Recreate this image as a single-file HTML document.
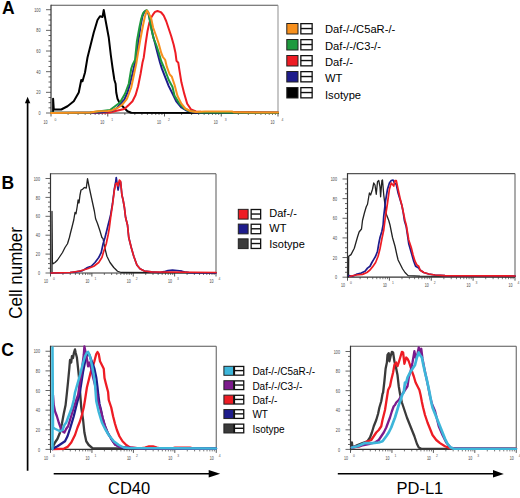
<!DOCTYPE html>
<html><head><meta charset="utf-8"><style>
html,body{margin:0;padding:0;background:#fff;}
body{width:520px;height:498px;overflow:hidden;font-family:"Liberation Sans", sans-serif;}
svg{display:block;}
</style></head><body>
<svg width="520" height="498" viewBox="0 0 520 498" font-family='"Liberation Sans", sans-serif'>
<rect x="0" y="0" width="520" height="498" fill="#fff"/>
<text x="2.00" y="13.70" font-size="17.5" fill="#000" font-weight="bold" text-anchor="start" >A</text>
<text x="1.60" y="189.30" font-size="17.5" fill="#000" font-weight="bold" text-anchor="start" >B</text>
<text x="1.30" y="356.00" font-size="17.5" fill="#000" font-weight="bold" text-anchor="start" >C</text>
<line x1="27.60" y1="101.00" x2="27.60" y2="470.80" stroke="#000" stroke-width="1.7"/>
<polygon points="27.6,96.8 24.9,103.2 30.3,103.2" fill="#000"/>
<text transform="translate(21.9,318.7) rotate(-90) scale(0.945,1)" font-size="18" fill="#000">Cell number</text>
<line x1="53.70" y1="473.75" x2="210.00" y2="473.75" stroke="#000" stroke-width="1.7"/>
<polygon points="220.2,473.75 208.7,470.1 208.7,477.4" fill="#000"/>
<line x1="337.80" y1="473.75" x2="494.00" y2="473.75" stroke="#000" stroke-width="1.7"/>
<polygon points="503.8,473.9 493,470.1 493,477.4" fill="#000"/>
<text x="108.00" y="494.20" font-size="16.5" fill="#000" font-weight="normal" text-anchor="start" >CD40</text>
<text x="396.50" y="494.00" font-size="16.5" fill="#000" font-weight="normal" text-anchor="start" >PD-L1</text>
<line x1="51.00" y1="5.20" x2="278.00" y2="5.20" stroke="#555" stroke-width="1.1"/>
<line x1="278.00" y1="5.20" x2="278.00" y2="113.00" stroke="#999" stroke-width="1.1"/>
<line x1="46.00" y1="113.00" x2="51.00" y2="113.00" stroke="#555" stroke-width="0.9"/>
<text transform="translate(40.50,115.10) scale(0.72,1)" font-size="5.2" fill="#444" text-anchor="end">0</text>
<line x1="48.50" y1="107.84" x2="51.00" y2="107.84" stroke="#555" stroke-width="0.9"/>
<line x1="48.50" y1="102.67" x2="51.00" y2="102.67" stroke="#555" stroke-width="0.9"/>
<line x1="48.50" y1="97.50" x2="51.00" y2="97.50" stroke="#555" stroke-width="0.9"/>
<line x1="46.00" y1="92.34" x2="51.00" y2="92.34" stroke="#555" stroke-width="0.9"/>
<text transform="translate(40.50,94.44) scale(0.72,1)" font-size="5.2" fill="#444" text-anchor="end">20</text>
<line x1="48.50" y1="87.17" x2="51.00" y2="87.17" stroke="#555" stroke-width="0.9"/>
<line x1="48.50" y1="82.01" x2="51.00" y2="82.01" stroke="#555" stroke-width="0.9"/>
<line x1="48.50" y1="76.84" x2="51.00" y2="76.84" stroke="#555" stroke-width="0.9"/>
<line x1="46.00" y1="71.68" x2="51.00" y2="71.68" stroke="#555" stroke-width="0.9"/>
<text transform="translate(40.50,73.78) scale(0.72,1)" font-size="5.2" fill="#444" text-anchor="end">40</text>
<line x1="48.50" y1="66.52" x2="51.00" y2="66.52" stroke="#555" stroke-width="0.9"/>
<line x1="48.50" y1="61.35" x2="51.00" y2="61.35" stroke="#555" stroke-width="0.9"/>
<line x1="48.50" y1="56.19" x2="51.00" y2="56.19" stroke="#555" stroke-width="0.9"/>
<line x1="46.00" y1="51.02" x2="51.00" y2="51.02" stroke="#555" stroke-width="0.9"/>
<text transform="translate(40.50,53.12) scale(0.72,1)" font-size="5.2" fill="#444" text-anchor="end">60</text>
<line x1="48.50" y1="45.86" x2="51.00" y2="45.86" stroke="#555" stroke-width="0.9"/>
<line x1="48.50" y1="40.69" x2="51.00" y2="40.69" stroke="#555" stroke-width="0.9"/>
<line x1="48.50" y1="35.53" x2="51.00" y2="35.53" stroke="#555" stroke-width="0.9"/>
<line x1="46.00" y1="30.36" x2="51.00" y2="30.36" stroke="#555" stroke-width="0.9"/>
<text transform="translate(40.50,32.46) scale(0.72,1)" font-size="5.2" fill="#444" text-anchor="end">80</text>
<line x1="48.50" y1="25.20" x2="51.00" y2="25.20" stroke="#555" stroke-width="0.9"/>
<line x1="48.50" y1="20.03" x2="51.00" y2="20.03" stroke="#555" stroke-width="0.9"/>
<line x1="48.50" y1="14.87" x2="51.00" y2="14.87" stroke="#555" stroke-width="0.9"/>
<line x1="46.00" y1="9.70" x2="51.00" y2="9.70" stroke="#555" stroke-width="0.9"/>
<text transform="translate(40.50,11.80) scale(0.72,1)" font-size="5.2" fill="#444" text-anchor="end">100</text>
<line x1="51.00" y1="113.00" x2="51.00" y2="116.50" stroke="#444" stroke-width="0.9"/>
<text transform="translate(47.50,124.40) scale(0.72,1)" font-size="5.0" fill="#444" text-anchor="end">10</text>
<text transform="translate(54.40,121.20) scale(0.8,1)" font-size="4.2" fill="#555" text-anchor="start">0</text>
<line x1="68.08" y1="113.00" x2="68.08" y2="115.00" stroke="#555" stroke-width="0.8"/>
<line x1="78.08" y1="113.00" x2="78.08" y2="115.00" stroke="#555" stroke-width="0.8"/>
<line x1="85.17" y1="113.00" x2="85.17" y2="115.00" stroke="#555" stroke-width="0.8"/>
<line x1="90.67" y1="113.00" x2="90.67" y2="115.00" stroke="#555" stroke-width="0.8"/>
<line x1="95.16" y1="113.00" x2="95.16" y2="115.00" stroke="#555" stroke-width="0.8"/>
<line x1="98.96" y1="113.00" x2="98.96" y2="115.00" stroke="#555" stroke-width="0.8"/>
<line x1="102.25" y1="113.00" x2="102.25" y2="115.00" stroke="#555" stroke-width="0.8"/>
<line x1="105.15" y1="113.00" x2="105.15" y2="115.00" stroke="#555" stroke-width="0.8"/>
<line x1="107.75" y1="113.00" x2="107.75" y2="116.50" stroke="#444" stroke-width="0.9"/>
<text transform="translate(104.25,124.40) scale(0.72,1)" font-size="5.0" fill="#444" text-anchor="end">10</text>
<text transform="translate(111.15,121.20) scale(0.8,1)" font-size="4.2" fill="#555" text-anchor="start">1</text>
<line x1="124.83" y1="113.00" x2="124.83" y2="115.00" stroke="#555" stroke-width="0.8"/>
<line x1="134.83" y1="113.00" x2="134.83" y2="115.00" stroke="#555" stroke-width="0.8"/>
<line x1="141.92" y1="113.00" x2="141.92" y2="115.00" stroke="#555" stroke-width="0.8"/>
<line x1="147.42" y1="113.00" x2="147.42" y2="115.00" stroke="#555" stroke-width="0.8"/>
<line x1="151.91" y1="113.00" x2="151.91" y2="115.00" stroke="#555" stroke-width="0.8"/>
<line x1="155.71" y1="113.00" x2="155.71" y2="115.00" stroke="#555" stroke-width="0.8"/>
<line x1="159.00" y1="113.00" x2="159.00" y2="115.00" stroke="#555" stroke-width="0.8"/>
<line x1="161.90" y1="113.00" x2="161.90" y2="115.00" stroke="#555" stroke-width="0.8"/>
<line x1="164.50" y1="113.00" x2="164.50" y2="116.50" stroke="#444" stroke-width="0.9"/>
<text transform="translate(161.00,124.40) scale(0.72,1)" font-size="5.0" fill="#444" text-anchor="end">10</text>
<text transform="translate(167.90,121.20) scale(0.8,1)" font-size="4.2" fill="#555" text-anchor="start">2</text>
<line x1="181.58" y1="113.00" x2="181.58" y2="115.00" stroke="#555" stroke-width="0.8"/>
<line x1="191.58" y1="113.00" x2="191.58" y2="115.00" stroke="#555" stroke-width="0.8"/>
<line x1="198.67" y1="113.00" x2="198.67" y2="115.00" stroke="#555" stroke-width="0.8"/>
<line x1="204.17" y1="113.00" x2="204.17" y2="115.00" stroke="#555" stroke-width="0.8"/>
<line x1="208.66" y1="113.00" x2="208.66" y2="115.00" stroke="#555" stroke-width="0.8"/>
<line x1="212.46" y1="113.00" x2="212.46" y2="115.00" stroke="#555" stroke-width="0.8"/>
<line x1="215.75" y1="113.00" x2="215.75" y2="115.00" stroke="#555" stroke-width="0.8"/>
<line x1="218.65" y1="113.00" x2="218.65" y2="115.00" stroke="#555" stroke-width="0.8"/>
<line x1="221.25" y1="113.00" x2="221.25" y2="116.50" stroke="#444" stroke-width="0.9"/>
<text transform="translate(217.75,124.40) scale(0.72,1)" font-size="5.0" fill="#444" text-anchor="end">10</text>
<text transform="translate(224.65,121.20) scale(0.8,1)" font-size="4.2" fill="#555" text-anchor="start">3</text>
<line x1="238.33" y1="113.00" x2="238.33" y2="115.00" stroke="#555" stroke-width="0.8"/>
<line x1="248.33" y1="113.00" x2="248.33" y2="115.00" stroke="#555" stroke-width="0.8"/>
<line x1="255.42" y1="113.00" x2="255.42" y2="115.00" stroke="#555" stroke-width="0.8"/>
<line x1="260.92" y1="113.00" x2="260.92" y2="115.00" stroke="#555" stroke-width="0.8"/>
<line x1="265.41" y1="113.00" x2="265.41" y2="115.00" stroke="#555" stroke-width="0.8"/>
<line x1="269.21" y1="113.00" x2="269.21" y2="115.00" stroke="#555" stroke-width="0.8"/>
<line x1="272.50" y1="113.00" x2="272.50" y2="115.00" stroke="#555" stroke-width="0.8"/>
<line x1="275.40" y1="113.00" x2="275.40" y2="115.00" stroke="#555" stroke-width="0.8"/>
<line x1="278.00" y1="113.00" x2="278.00" y2="116.50" stroke="#444" stroke-width="0.9"/>
<text transform="translate(274.50,124.40) scale(0.72,1)" font-size="5.0" fill="#444" text-anchor="end">10</text>
<text transform="translate(281.40,121.20) scale(0.8,1)" font-size="4.2" fill="#555" text-anchor="start">4</text>
<line x1="51.00" y1="4.70" x2="51.00" y2="113.50" stroke="#333" stroke-width="1.2"/>
<line x1="50.50" y1="113.00" x2="278.00" y2="113.00" stroke="#333" stroke-width="1.2"/>
<line x1="50.50" y1="173.75" x2="216.00" y2="173.75" stroke="#555" stroke-width="1.1"/>
<line x1="216.00" y1="173.75" x2="216.00" y2="273.00" stroke="#666" stroke-width="1.1"/>
<line x1="45.50" y1="273.00" x2="50.50" y2="273.00" stroke="#555" stroke-width="0.9"/>
<text transform="translate(40.00,275.10) scale(0.72,1)" font-size="5.2" fill="#444" text-anchor="end">0</text>
<line x1="48.00" y1="268.27" x2="50.50" y2="268.27" stroke="#555" stroke-width="0.9"/>
<line x1="48.00" y1="263.55" x2="50.50" y2="263.55" stroke="#555" stroke-width="0.9"/>
<line x1="48.00" y1="258.82" x2="50.50" y2="258.82" stroke="#555" stroke-width="0.9"/>
<line x1="45.50" y1="254.10" x2="50.50" y2="254.10" stroke="#555" stroke-width="0.9"/>
<text transform="translate(40.00,256.20) scale(0.72,1)" font-size="5.2" fill="#444" text-anchor="end">20</text>
<line x1="48.00" y1="249.38" x2="50.50" y2="249.38" stroke="#555" stroke-width="0.9"/>
<line x1="48.00" y1="244.65" x2="50.50" y2="244.65" stroke="#555" stroke-width="0.9"/>
<line x1="48.00" y1="239.93" x2="50.50" y2="239.93" stroke="#555" stroke-width="0.9"/>
<line x1="45.50" y1="235.20" x2="50.50" y2="235.20" stroke="#555" stroke-width="0.9"/>
<text transform="translate(40.00,237.30) scale(0.72,1)" font-size="5.2" fill="#444" text-anchor="end">40</text>
<line x1="48.00" y1="230.47" x2="50.50" y2="230.47" stroke="#555" stroke-width="0.9"/>
<line x1="48.00" y1="225.75" x2="50.50" y2="225.75" stroke="#555" stroke-width="0.9"/>
<line x1="48.00" y1="221.03" x2="50.50" y2="221.03" stroke="#555" stroke-width="0.9"/>
<line x1="45.50" y1="216.30" x2="50.50" y2="216.30" stroke="#555" stroke-width="0.9"/>
<text transform="translate(40.00,218.40) scale(0.72,1)" font-size="5.2" fill="#444" text-anchor="end">60</text>
<line x1="48.00" y1="211.57" x2="50.50" y2="211.57" stroke="#555" stroke-width="0.9"/>
<line x1="48.00" y1="206.85" x2="50.50" y2="206.85" stroke="#555" stroke-width="0.9"/>
<line x1="48.00" y1="202.12" x2="50.50" y2="202.12" stroke="#555" stroke-width="0.9"/>
<line x1="45.50" y1="197.40" x2="50.50" y2="197.40" stroke="#555" stroke-width="0.9"/>
<text transform="translate(40.00,199.50) scale(0.72,1)" font-size="5.2" fill="#444" text-anchor="end">80</text>
<line x1="48.00" y1="192.68" x2="50.50" y2="192.68" stroke="#555" stroke-width="0.9"/>
<line x1="48.00" y1="187.95" x2="50.50" y2="187.95" stroke="#555" stroke-width="0.9"/>
<line x1="48.00" y1="183.23" x2="50.50" y2="183.23" stroke="#555" stroke-width="0.9"/>
<line x1="45.50" y1="178.50" x2="50.50" y2="178.50" stroke="#555" stroke-width="0.9"/>
<text transform="translate(40.00,180.60) scale(0.72,1)" font-size="5.2" fill="#444" text-anchor="end">100</text>
<line x1="50.50" y1="273.00" x2="50.50" y2="276.50" stroke="#444" stroke-width="0.9"/>
<text transform="translate(48.00,283.20) scale(0.72,1)" font-size="5.0" fill="#444" text-anchor="end">10</text>
<text transform="translate(53.00,280.20) scale(0.8,1)" font-size="4.2" fill="#555" text-anchor="start">0</text>
<line x1="62.96" y1="273.00" x2="62.96" y2="275.00" stroke="#555" stroke-width="0.8"/>
<line x1="70.24" y1="273.00" x2="70.24" y2="275.00" stroke="#555" stroke-width="0.8"/>
<line x1="75.41" y1="273.00" x2="75.41" y2="275.00" stroke="#555" stroke-width="0.8"/>
<line x1="79.42" y1="273.00" x2="79.42" y2="275.00" stroke="#555" stroke-width="0.8"/>
<line x1="82.70" y1="273.00" x2="82.70" y2="275.00" stroke="#555" stroke-width="0.8"/>
<line x1="85.47" y1="273.00" x2="85.47" y2="275.00" stroke="#555" stroke-width="0.8"/>
<line x1="87.87" y1="273.00" x2="87.87" y2="275.00" stroke="#555" stroke-width="0.8"/>
<line x1="89.98" y1="273.00" x2="89.98" y2="275.00" stroke="#555" stroke-width="0.8"/>
<line x1="91.88" y1="273.00" x2="91.88" y2="276.50" stroke="#444" stroke-width="0.9"/>
<text transform="translate(89.38,283.20) scale(0.72,1)" font-size="5.0" fill="#444" text-anchor="end">10</text>
<text transform="translate(94.38,280.20) scale(0.8,1)" font-size="4.2" fill="#555" text-anchor="start">1</text>
<line x1="104.33" y1="273.00" x2="104.33" y2="275.00" stroke="#555" stroke-width="0.8"/>
<line x1="111.62" y1="273.00" x2="111.62" y2="275.00" stroke="#555" stroke-width="0.8"/>
<line x1="116.79" y1="273.00" x2="116.79" y2="275.00" stroke="#555" stroke-width="0.8"/>
<line x1="120.79" y1="273.00" x2="120.79" y2="275.00" stroke="#555" stroke-width="0.8"/>
<line x1="124.07" y1="273.00" x2="124.07" y2="275.00" stroke="#555" stroke-width="0.8"/>
<line x1="126.84" y1="273.00" x2="126.84" y2="275.00" stroke="#555" stroke-width="0.8"/>
<line x1="129.24" y1="273.00" x2="129.24" y2="275.00" stroke="#555" stroke-width="0.8"/>
<line x1="131.36" y1="273.00" x2="131.36" y2="275.00" stroke="#555" stroke-width="0.8"/>
<line x1="133.25" y1="273.00" x2="133.25" y2="276.50" stroke="#444" stroke-width="0.9"/>
<text transform="translate(130.75,283.20) scale(0.72,1)" font-size="5.0" fill="#444" text-anchor="end">10</text>
<text transform="translate(135.75,280.20) scale(0.8,1)" font-size="4.2" fill="#555" text-anchor="start">2</text>
<line x1="145.71" y1="273.00" x2="145.71" y2="275.00" stroke="#555" stroke-width="0.8"/>
<line x1="152.99" y1="273.00" x2="152.99" y2="275.00" stroke="#555" stroke-width="0.8"/>
<line x1="158.16" y1="273.00" x2="158.16" y2="275.00" stroke="#555" stroke-width="0.8"/>
<line x1="162.17" y1="273.00" x2="162.17" y2="275.00" stroke="#555" stroke-width="0.8"/>
<line x1="165.45" y1="273.00" x2="165.45" y2="275.00" stroke="#555" stroke-width="0.8"/>
<line x1="168.22" y1="273.00" x2="168.22" y2="275.00" stroke="#555" stroke-width="0.8"/>
<line x1="170.62" y1="273.00" x2="170.62" y2="275.00" stroke="#555" stroke-width="0.8"/>
<line x1="172.73" y1="273.00" x2="172.73" y2="275.00" stroke="#555" stroke-width="0.8"/>
<line x1="174.62" y1="273.00" x2="174.62" y2="276.50" stroke="#444" stroke-width="0.9"/>
<text transform="translate(172.12,283.20) scale(0.72,1)" font-size="5.0" fill="#444" text-anchor="end">10</text>
<text transform="translate(177.12,280.20) scale(0.8,1)" font-size="4.2" fill="#555" text-anchor="start">3</text>
<line x1="187.08" y1="273.00" x2="187.08" y2="275.00" stroke="#555" stroke-width="0.8"/>
<line x1="194.37" y1="273.00" x2="194.37" y2="275.00" stroke="#555" stroke-width="0.8"/>
<line x1="199.54" y1="273.00" x2="199.54" y2="275.00" stroke="#555" stroke-width="0.8"/>
<line x1="203.54" y1="273.00" x2="203.54" y2="275.00" stroke="#555" stroke-width="0.8"/>
<line x1="206.82" y1="273.00" x2="206.82" y2="275.00" stroke="#555" stroke-width="0.8"/>
<line x1="209.59" y1="273.00" x2="209.59" y2="275.00" stroke="#555" stroke-width="0.8"/>
<line x1="211.99" y1="273.00" x2="211.99" y2="275.00" stroke="#555" stroke-width="0.8"/>
<line x1="214.11" y1="273.00" x2="214.11" y2="275.00" stroke="#555" stroke-width="0.8"/>
<line x1="216.00" y1="273.00" x2="216.00" y2="276.50" stroke="#444" stroke-width="0.9"/>
<text transform="translate(213.50,283.20) scale(0.72,1)" font-size="5.0" fill="#444" text-anchor="end">10</text>
<text transform="translate(218.50,280.20) scale(0.8,1)" font-size="4.2" fill="#555" text-anchor="start">4</text>
<line x1="50.50" y1="173.25" x2="50.50" y2="273.50" stroke="#333" stroke-width="1.2"/>
<line x1="50.00" y1="273.00" x2="216.00" y2="273.00" stroke="#333" stroke-width="1.2"/>
<line x1="347.50" y1="173.60" x2="515.00" y2="173.60" stroke="#555" stroke-width="1.1"/>
<line x1="515.00" y1="173.60" x2="515.00" y2="277.20" stroke="#666" stroke-width="1.1"/>
<line x1="342.50" y1="277.20" x2="347.50" y2="277.20" stroke="#555" stroke-width="0.9"/>
<text transform="translate(337.00,279.30) scale(0.72,1)" font-size="5.2" fill="#444" text-anchor="end">0</text>
<line x1="345.00" y1="272.29" x2="347.50" y2="272.29" stroke="#555" stroke-width="0.9"/>
<line x1="345.00" y1="267.38" x2="347.50" y2="267.38" stroke="#555" stroke-width="0.9"/>
<line x1="345.00" y1="262.47" x2="347.50" y2="262.47" stroke="#555" stroke-width="0.9"/>
<line x1="342.50" y1="257.56" x2="347.50" y2="257.56" stroke="#555" stroke-width="0.9"/>
<text transform="translate(337.00,259.66) scale(0.72,1)" font-size="5.2" fill="#444" text-anchor="end">20</text>
<line x1="345.00" y1="252.65" x2="347.50" y2="252.65" stroke="#555" stroke-width="0.9"/>
<line x1="345.00" y1="247.74" x2="347.50" y2="247.74" stroke="#555" stroke-width="0.9"/>
<line x1="345.00" y1="242.83" x2="347.50" y2="242.83" stroke="#555" stroke-width="0.9"/>
<line x1="342.50" y1="237.92" x2="347.50" y2="237.92" stroke="#555" stroke-width="0.9"/>
<text transform="translate(337.00,240.02) scale(0.72,1)" font-size="5.2" fill="#444" text-anchor="end">40</text>
<line x1="345.00" y1="233.01" x2="347.50" y2="233.01" stroke="#555" stroke-width="0.9"/>
<line x1="345.00" y1="228.10" x2="347.50" y2="228.10" stroke="#555" stroke-width="0.9"/>
<line x1="345.00" y1="223.19" x2="347.50" y2="223.19" stroke="#555" stroke-width="0.9"/>
<line x1="342.50" y1="218.28" x2="347.50" y2="218.28" stroke="#555" stroke-width="0.9"/>
<text transform="translate(337.00,220.38) scale(0.72,1)" font-size="5.2" fill="#444" text-anchor="end">60</text>
<line x1="345.00" y1="213.37" x2="347.50" y2="213.37" stroke="#555" stroke-width="0.9"/>
<line x1="345.00" y1="208.46" x2="347.50" y2="208.46" stroke="#555" stroke-width="0.9"/>
<line x1="345.00" y1="203.55" x2="347.50" y2="203.55" stroke="#555" stroke-width="0.9"/>
<line x1="342.50" y1="198.64" x2="347.50" y2="198.64" stroke="#555" stroke-width="0.9"/>
<text transform="translate(337.00,200.74) scale(0.72,1)" font-size="5.2" fill="#444" text-anchor="end">80</text>
<line x1="345.00" y1="193.73" x2="347.50" y2="193.73" stroke="#555" stroke-width="0.9"/>
<line x1="345.00" y1="188.82" x2="347.50" y2="188.82" stroke="#555" stroke-width="0.9"/>
<line x1="345.00" y1="183.91" x2="347.50" y2="183.91" stroke="#555" stroke-width="0.9"/>
<line x1="342.50" y1="179.00" x2="347.50" y2="179.00" stroke="#555" stroke-width="0.9"/>
<text transform="translate(337.00,181.10) scale(0.72,1)" font-size="5.2" fill="#444" text-anchor="end">100</text>
<line x1="347.50" y1="277.20" x2="347.50" y2="280.70" stroke="#444" stroke-width="0.9"/>
<text transform="translate(345.00,287.40) scale(0.72,1)" font-size="5.0" fill="#444" text-anchor="end">10</text>
<text transform="translate(350.00,284.40) scale(0.8,1)" font-size="4.2" fill="#555" text-anchor="start">0</text>
<line x1="360.11" y1="277.20" x2="360.11" y2="279.20" stroke="#555" stroke-width="0.8"/>
<line x1="367.48" y1="277.20" x2="367.48" y2="279.20" stroke="#555" stroke-width="0.8"/>
<line x1="372.71" y1="277.20" x2="372.71" y2="279.20" stroke="#555" stroke-width="0.8"/>
<line x1="376.77" y1="277.20" x2="376.77" y2="279.20" stroke="#555" stroke-width="0.8"/>
<line x1="380.09" y1="277.20" x2="380.09" y2="279.20" stroke="#555" stroke-width="0.8"/>
<line x1="382.89" y1="277.20" x2="382.89" y2="279.20" stroke="#555" stroke-width="0.8"/>
<line x1="385.32" y1="277.20" x2="385.32" y2="279.20" stroke="#555" stroke-width="0.8"/>
<line x1="387.46" y1="277.20" x2="387.46" y2="279.20" stroke="#555" stroke-width="0.8"/>
<line x1="389.38" y1="277.20" x2="389.38" y2="280.70" stroke="#444" stroke-width="0.9"/>
<text transform="translate(386.88,287.40) scale(0.72,1)" font-size="5.0" fill="#444" text-anchor="end">10</text>
<text transform="translate(391.88,284.40) scale(0.8,1)" font-size="4.2" fill="#555" text-anchor="start">1</text>
<line x1="401.98" y1="277.20" x2="401.98" y2="279.20" stroke="#555" stroke-width="0.8"/>
<line x1="409.35" y1="277.20" x2="409.35" y2="279.20" stroke="#555" stroke-width="0.8"/>
<line x1="414.59" y1="277.20" x2="414.59" y2="279.20" stroke="#555" stroke-width="0.8"/>
<line x1="418.64" y1="277.20" x2="418.64" y2="279.20" stroke="#555" stroke-width="0.8"/>
<line x1="421.96" y1="277.20" x2="421.96" y2="279.20" stroke="#555" stroke-width="0.8"/>
<line x1="424.76" y1="277.20" x2="424.76" y2="279.20" stroke="#555" stroke-width="0.8"/>
<line x1="427.19" y1="277.20" x2="427.19" y2="279.20" stroke="#555" stroke-width="0.8"/>
<line x1="429.33" y1="277.20" x2="429.33" y2="279.20" stroke="#555" stroke-width="0.8"/>
<line x1="431.25" y1="277.20" x2="431.25" y2="280.70" stroke="#444" stroke-width="0.9"/>
<text transform="translate(428.75,287.40) scale(0.72,1)" font-size="5.0" fill="#444" text-anchor="end">10</text>
<text transform="translate(433.75,284.40) scale(0.8,1)" font-size="4.2" fill="#555" text-anchor="start">2</text>
<line x1="443.86" y1="277.20" x2="443.86" y2="279.20" stroke="#555" stroke-width="0.8"/>
<line x1="451.23" y1="277.20" x2="451.23" y2="279.20" stroke="#555" stroke-width="0.8"/>
<line x1="456.46" y1="277.20" x2="456.46" y2="279.20" stroke="#555" stroke-width="0.8"/>
<line x1="460.52" y1="277.20" x2="460.52" y2="279.20" stroke="#555" stroke-width="0.8"/>
<line x1="463.84" y1="277.20" x2="463.84" y2="279.20" stroke="#555" stroke-width="0.8"/>
<line x1="466.64" y1="277.20" x2="466.64" y2="279.20" stroke="#555" stroke-width="0.8"/>
<line x1="469.07" y1="277.20" x2="469.07" y2="279.20" stroke="#555" stroke-width="0.8"/>
<line x1="471.21" y1="277.20" x2="471.21" y2="279.20" stroke="#555" stroke-width="0.8"/>
<line x1="473.12" y1="277.20" x2="473.12" y2="280.70" stroke="#444" stroke-width="0.9"/>
<text transform="translate(470.62,287.40) scale(0.72,1)" font-size="5.0" fill="#444" text-anchor="end">10</text>
<text transform="translate(475.62,284.40) scale(0.8,1)" font-size="4.2" fill="#555" text-anchor="start">3</text>
<line x1="485.73" y1="277.20" x2="485.73" y2="279.20" stroke="#555" stroke-width="0.8"/>
<line x1="493.10" y1="277.20" x2="493.10" y2="279.20" stroke="#555" stroke-width="0.8"/>
<line x1="498.34" y1="277.20" x2="498.34" y2="279.20" stroke="#555" stroke-width="0.8"/>
<line x1="502.39" y1="277.20" x2="502.39" y2="279.20" stroke="#555" stroke-width="0.8"/>
<line x1="505.71" y1="277.20" x2="505.71" y2="279.20" stroke="#555" stroke-width="0.8"/>
<line x1="508.51" y1="277.20" x2="508.51" y2="279.20" stroke="#555" stroke-width="0.8"/>
<line x1="510.94" y1="277.20" x2="510.94" y2="279.20" stroke="#555" stroke-width="0.8"/>
<line x1="513.08" y1="277.20" x2="513.08" y2="279.20" stroke="#555" stroke-width="0.8"/>
<line x1="515.00" y1="277.20" x2="515.00" y2="280.70" stroke="#444" stroke-width="0.9"/>
<text transform="translate(512.50,287.40) scale(0.72,1)" font-size="5.0" fill="#444" text-anchor="end">10</text>
<text transform="translate(517.50,284.40) scale(0.8,1)" font-size="4.2" fill="#555" text-anchor="start">4</text>
<line x1="347.50" y1="173.10" x2="347.50" y2="277.70" stroke="#333" stroke-width="1.2"/>
<line x1="347.00" y1="277.20" x2="515.00" y2="277.20" stroke="#333" stroke-width="1.2"/>
<line x1="50.50" y1="346.25" x2="216.25" y2="346.25" stroke="#555" stroke-width="1.1"/>
<line x1="216.25" y1="346.25" x2="216.25" y2="449.40" stroke="#666" stroke-width="1.1"/>
<line x1="45.50" y1="449.40" x2="50.50" y2="449.40" stroke="#555" stroke-width="0.9"/>
<text transform="translate(40.00,451.50) scale(0.72,1)" font-size="5.2" fill="#444" text-anchor="end">0</text>
<line x1="48.00" y1="444.49" x2="50.50" y2="444.49" stroke="#555" stroke-width="0.9"/>
<line x1="48.00" y1="439.58" x2="50.50" y2="439.58" stroke="#555" stroke-width="0.9"/>
<line x1="48.00" y1="434.68" x2="50.50" y2="434.68" stroke="#555" stroke-width="0.9"/>
<line x1="45.50" y1="429.77" x2="50.50" y2="429.77" stroke="#555" stroke-width="0.9"/>
<text transform="translate(40.00,431.87) scale(0.72,1)" font-size="5.2" fill="#444" text-anchor="end">20</text>
<line x1="48.00" y1="424.86" x2="50.50" y2="424.86" stroke="#555" stroke-width="0.9"/>
<line x1="48.00" y1="419.95" x2="50.50" y2="419.95" stroke="#555" stroke-width="0.9"/>
<line x1="48.00" y1="415.05" x2="50.50" y2="415.05" stroke="#555" stroke-width="0.9"/>
<line x1="45.50" y1="410.14" x2="50.50" y2="410.14" stroke="#555" stroke-width="0.9"/>
<text transform="translate(40.00,412.24) scale(0.72,1)" font-size="5.2" fill="#444" text-anchor="end">40</text>
<line x1="48.00" y1="405.23" x2="50.50" y2="405.23" stroke="#555" stroke-width="0.9"/>
<line x1="48.00" y1="400.32" x2="50.50" y2="400.32" stroke="#555" stroke-width="0.9"/>
<line x1="48.00" y1="395.42" x2="50.50" y2="395.42" stroke="#555" stroke-width="0.9"/>
<line x1="45.50" y1="390.51" x2="50.50" y2="390.51" stroke="#555" stroke-width="0.9"/>
<text transform="translate(40.00,392.61) scale(0.72,1)" font-size="5.2" fill="#444" text-anchor="end">60</text>
<line x1="48.00" y1="385.60" x2="50.50" y2="385.60" stroke="#555" stroke-width="0.9"/>
<line x1="48.00" y1="380.69" x2="50.50" y2="380.69" stroke="#555" stroke-width="0.9"/>
<line x1="48.00" y1="375.79" x2="50.50" y2="375.79" stroke="#555" stroke-width="0.9"/>
<line x1="45.50" y1="370.88" x2="50.50" y2="370.88" stroke="#555" stroke-width="0.9"/>
<text transform="translate(40.00,372.98) scale(0.72,1)" font-size="5.2" fill="#444" text-anchor="end">80</text>
<line x1="48.00" y1="365.97" x2="50.50" y2="365.97" stroke="#555" stroke-width="0.9"/>
<line x1="48.00" y1="361.06" x2="50.50" y2="361.06" stroke="#555" stroke-width="0.9"/>
<line x1="48.00" y1="356.16" x2="50.50" y2="356.16" stroke="#555" stroke-width="0.9"/>
<line x1="45.50" y1="351.25" x2="50.50" y2="351.25" stroke="#555" stroke-width="0.9"/>
<text transform="translate(40.00,353.35) scale(0.72,1)" font-size="5.2" fill="#444" text-anchor="end">100</text>
<line x1="50.50" y1="449.40" x2="50.50" y2="452.90" stroke="#444" stroke-width="0.9"/>
<text transform="translate(48.00,459.60) scale(0.72,1)" font-size="5.0" fill="#444" text-anchor="end">10</text>
<text transform="translate(53.00,456.60) scale(0.8,1)" font-size="4.2" fill="#555" text-anchor="start">0</text>
<line x1="62.97" y1="449.40" x2="62.97" y2="451.40" stroke="#555" stroke-width="0.8"/>
<line x1="70.27" y1="449.40" x2="70.27" y2="451.40" stroke="#555" stroke-width="0.8"/>
<line x1="75.45" y1="449.40" x2="75.45" y2="451.40" stroke="#555" stroke-width="0.8"/>
<line x1="79.46" y1="449.40" x2="79.46" y2="451.40" stroke="#555" stroke-width="0.8"/>
<line x1="82.74" y1="449.40" x2="82.74" y2="451.40" stroke="#555" stroke-width="0.8"/>
<line x1="85.52" y1="449.40" x2="85.52" y2="451.40" stroke="#555" stroke-width="0.8"/>
<line x1="87.92" y1="449.40" x2="87.92" y2="451.40" stroke="#555" stroke-width="0.8"/>
<line x1="90.04" y1="449.40" x2="90.04" y2="451.40" stroke="#555" stroke-width="0.8"/>
<line x1="91.94" y1="449.40" x2="91.94" y2="452.90" stroke="#444" stroke-width="0.9"/>
<text transform="translate(89.44,459.60) scale(0.72,1)" font-size="5.0" fill="#444" text-anchor="end">10</text>
<text transform="translate(94.44,456.60) scale(0.8,1)" font-size="4.2" fill="#555" text-anchor="start">1</text>
<line x1="104.41" y1="449.40" x2="104.41" y2="451.40" stroke="#555" stroke-width="0.8"/>
<line x1="111.71" y1="449.40" x2="111.71" y2="451.40" stroke="#555" stroke-width="0.8"/>
<line x1="116.89" y1="449.40" x2="116.89" y2="451.40" stroke="#555" stroke-width="0.8"/>
<line x1="120.90" y1="449.40" x2="120.90" y2="451.40" stroke="#555" stroke-width="0.8"/>
<line x1="124.18" y1="449.40" x2="124.18" y2="451.40" stroke="#555" stroke-width="0.8"/>
<line x1="126.96" y1="449.40" x2="126.96" y2="451.40" stroke="#555" stroke-width="0.8"/>
<line x1="129.36" y1="449.40" x2="129.36" y2="451.40" stroke="#555" stroke-width="0.8"/>
<line x1="131.48" y1="449.40" x2="131.48" y2="451.40" stroke="#555" stroke-width="0.8"/>
<line x1="133.38" y1="449.40" x2="133.38" y2="452.90" stroke="#444" stroke-width="0.9"/>
<text transform="translate(130.88,459.60) scale(0.72,1)" font-size="5.0" fill="#444" text-anchor="end">10</text>
<text transform="translate(135.88,456.60) scale(0.8,1)" font-size="4.2" fill="#555" text-anchor="start">2</text>
<line x1="145.85" y1="449.40" x2="145.85" y2="451.40" stroke="#555" stroke-width="0.8"/>
<line x1="153.15" y1="449.40" x2="153.15" y2="451.40" stroke="#555" stroke-width="0.8"/>
<line x1="158.32" y1="449.40" x2="158.32" y2="451.40" stroke="#555" stroke-width="0.8"/>
<line x1="162.34" y1="449.40" x2="162.34" y2="451.40" stroke="#555" stroke-width="0.8"/>
<line x1="165.62" y1="449.40" x2="165.62" y2="451.40" stroke="#555" stroke-width="0.8"/>
<line x1="168.39" y1="449.40" x2="168.39" y2="451.40" stroke="#555" stroke-width="0.8"/>
<line x1="170.80" y1="449.40" x2="170.80" y2="451.40" stroke="#555" stroke-width="0.8"/>
<line x1="172.92" y1="449.40" x2="172.92" y2="451.40" stroke="#555" stroke-width="0.8"/>
<line x1="174.81" y1="449.40" x2="174.81" y2="452.90" stroke="#444" stroke-width="0.9"/>
<text transform="translate(172.31,459.60) scale(0.72,1)" font-size="5.0" fill="#444" text-anchor="end">10</text>
<text transform="translate(177.31,456.60) scale(0.8,1)" font-size="4.2" fill="#555" text-anchor="start">3</text>
<line x1="187.29" y1="449.40" x2="187.29" y2="451.40" stroke="#555" stroke-width="0.8"/>
<line x1="194.58" y1="449.40" x2="194.58" y2="451.40" stroke="#555" stroke-width="0.8"/>
<line x1="199.76" y1="449.40" x2="199.76" y2="451.40" stroke="#555" stroke-width="0.8"/>
<line x1="203.78" y1="449.40" x2="203.78" y2="451.40" stroke="#555" stroke-width="0.8"/>
<line x1="207.06" y1="449.40" x2="207.06" y2="451.40" stroke="#555" stroke-width="0.8"/>
<line x1="209.83" y1="449.40" x2="209.83" y2="451.40" stroke="#555" stroke-width="0.8"/>
<line x1="212.23" y1="449.40" x2="212.23" y2="451.40" stroke="#555" stroke-width="0.8"/>
<line x1="214.35" y1="449.40" x2="214.35" y2="451.40" stroke="#555" stroke-width="0.8"/>
<line x1="216.25" y1="449.40" x2="216.25" y2="452.90" stroke="#444" stroke-width="0.9"/>
<text transform="translate(213.75,459.60) scale(0.72,1)" font-size="5.0" fill="#444" text-anchor="end">10</text>
<text transform="translate(218.75,456.60) scale(0.8,1)" font-size="4.2" fill="#555" text-anchor="start">4</text>
<line x1="50.50" y1="345.75" x2="50.50" y2="449.90" stroke="#333" stroke-width="1.2"/>
<line x1="50.00" y1="449.40" x2="216.25" y2="449.40" stroke="#333" stroke-width="1.2"/>
<line x1="350.50" y1="346.25" x2="516.25" y2="346.25" stroke="#555" stroke-width="1.1"/>
<line x1="516.25" y1="346.25" x2="516.25" y2="449.40" stroke="#666" stroke-width="1.1"/>
<line x1="345.50" y1="449.40" x2="350.50" y2="449.40" stroke="#555" stroke-width="0.9"/>
<text transform="translate(340.00,451.50) scale(0.72,1)" font-size="5.2" fill="#444" text-anchor="end">0</text>
<line x1="348.00" y1="444.50" x2="350.50" y2="444.50" stroke="#555" stroke-width="0.9"/>
<line x1="348.00" y1="439.61" x2="350.50" y2="439.61" stroke="#555" stroke-width="0.9"/>
<line x1="348.00" y1="434.71" x2="350.50" y2="434.71" stroke="#555" stroke-width="0.9"/>
<line x1="345.50" y1="429.82" x2="350.50" y2="429.82" stroke="#555" stroke-width="0.9"/>
<text transform="translate(340.00,431.92) scale(0.72,1)" font-size="5.2" fill="#444" text-anchor="end">20</text>
<line x1="348.00" y1="424.92" x2="350.50" y2="424.92" stroke="#555" stroke-width="0.9"/>
<line x1="348.00" y1="420.03" x2="350.50" y2="420.03" stroke="#555" stroke-width="0.9"/>
<line x1="348.00" y1="415.13" x2="350.50" y2="415.13" stroke="#555" stroke-width="0.9"/>
<line x1="345.50" y1="410.24" x2="350.50" y2="410.24" stroke="#555" stroke-width="0.9"/>
<text transform="translate(340.00,412.34) scale(0.72,1)" font-size="5.2" fill="#444" text-anchor="end">40</text>
<line x1="348.00" y1="405.34" x2="350.50" y2="405.34" stroke="#555" stroke-width="0.9"/>
<line x1="348.00" y1="400.45" x2="350.50" y2="400.45" stroke="#555" stroke-width="0.9"/>
<line x1="348.00" y1="395.56" x2="350.50" y2="395.56" stroke="#555" stroke-width="0.9"/>
<line x1="345.50" y1="390.66" x2="350.50" y2="390.66" stroke="#555" stroke-width="0.9"/>
<text transform="translate(340.00,392.76) scale(0.72,1)" font-size="5.2" fill="#444" text-anchor="end">60</text>
<line x1="348.00" y1="385.76" x2="350.50" y2="385.76" stroke="#555" stroke-width="0.9"/>
<line x1="348.00" y1="380.87" x2="350.50" y2="380.87" stroke="#555" stroke-width="0.9"/>
<line x1="348.00" y1="375.98" x2="350.50" y2="375.98" stroke="#555" stroke-width="0.9"/>
<line x1="345.50" y1="371.08" x2="350.50" y2="371.08" stroke="#555" stroke-width="0.9"/>
<text transform="translate(340.00,373.18) scale(0.72,1)" font-size="5.2" fill="#444" text-anchor="end">80</text>
<line x1="348.00" y1="366.19" x2="350.50" y2="366.19" stroke="#555" stroke-width="0.9"/>
<line x1="348.00" y1="361.29" x2="350.50" y2="361.29" stroke="#555" stroke-width="0.9"/>
<line x1="348.00" y1="356.39" x2="350.50" y2="356.39" stroke="#555" stroke-width="0.9"/>
<line x1="345.50" y1="351.50" x2="350.50" y2="351.50" stroke="#555" stroke-width="0.9"/>
<text transform="translate(340.00,353.60) scale(0.72,1)" font-size="5.2" fill="#444" text-anchor="end">100</text>
<line x1="350.50" y1="449.40" x2="350.50" y2="452.90" stroke="#444" stroke-width="0.9"/>
<text transform="translate(348.00,459.60) scale(0.72,1)" font-size="5.0" fill="#444" text-anchor="end">10</text>
<text transform="translate(353.00,456.60) scale(0.8,1)" font-size="4.2" fill="#555" text-anchor="start">0</text>
<line x1="362.97" y1="449.40" x2="362.97" y2="451.40" stroke="#555" stroke-width="0.8"/>
<line x1="370.27" y1="449.40" x2="370.27" y2="451.40" stroke="#555" stroke-width="0.8"/>
<line x1="375.45" y1="449.40" x2="375.45" y2="451.40" stroke="#555" stroke-width="0.8"/>
<line x1="379.46" y1="449.40" x2="379.46" y2="451.40" stroke="#555" stroke-width="0.8"/>
<line x1="382.74" y1="449.40" x2="382.74" y2="451.40" stroke="#555" stroke-width="0.8"/>
<line x1="385.52" y1="449.40" x2="385.52" y2="451.40" stroke="#555" stroke-width="0.8"/>
<line x1="387.92" y1="449.40" x2="387.92" y2="451.40" stroke="#555" stroke-width="0.8"/>
<line x1="390.04" y1="449.40" x2="390.04" y2="451.40" stroke="#555" stroke-width="0.8"/>
<line x1="391.94" y1="449.40" x2="391.94" y2="452.90" stroke="#444" stroke-width="0.9"/>
<text transform="translate(389.44,459.60) scale(0.72,1)" font-size="5.0" fill="#444" text-anchor="end">10</text>
<text transform="translate(394.44,456.60) scale(0.8,1)" font-size="4.2" fill="#555" text-anchor="start">1</text>
<line x1="404.41" y1="449.40" x2="404.41" y2="451.40" stroke="#555" stroke-width="0.8"/>
<line x1="411.71" y1="449.40" x2="411.71" y2="451.40" stroke="#555" stroke-width="0.8"/>
<line x1="416.89" y1="449.40" x2="416.89" y2="451.40" stroke="#555" stroke-width="0.8"/>
<line x1="420.90" y1="449.40" x2="420.90" y2="451.40" stroke="#555" stroke-width="0.8"/>
<line x1="424.18" y1="449.40" x2="424.18" y2="451.40" stroke="#555" stroke-width="0.8"/>
<line x1="426.96" y1="449.40" x2="426.96" y2="451.40" stroke="#555" stroke-width="0.8"/>
<line x1="429.36" y1="449.40" x2="429.36" y2="451.40" stroke="#555" stroke-width="0.8"/>
<line x1="431.48" y1="449.40" x2="431.48" y2="451.40" stroke="#555" stroke-width="0.8"/>
<line x1="433.38" y1="449.40" x2="433.38" y2="452.90" stroke="#444" stroke-width="0.9"/>
<text transform="translate(430.88,459.60) scale(0.72,1)" font-size="5.0" fill="#444" text-anchor="end">10</text>
<text transform="translate(435.88,456.60) scale(0.8,1)" font-size="4.2" fill="#555" text-anchor="start">2</text>
<line x1="445.85" y1="449.40" x2="445.85" y2="451.40" stroke="#555" stroke-width="0.8"/>
<line x1="453.15" y1="449.40" x2="453.15" y2="451.40" stroke="#555" stroke-width="0.8"/>
<line x1="458.32" y1="449.40" x2="458.32" y2="451.40" stroke="#555" stroke-width="0.8"/>
<line x1="462.34" y1="449.40" x2="462.34" y2="451.40" stroke="#555" stroke-width="0.8"/>
<line x1="465.62" y1="449.40" x2="465.62" y2="451.40" stroke="#555" stroke-width="0.8"/>
<line x1="468.39" y1="449.40" x2="468.39" y2="451.40" stroke="#555" stroke-width="0.8"/>
<line x1="470.80" y1="449.40" x2="470.80" y2="451.40" stroke="#555" stroke-width="0.8"/>
<line x1="472.92" y1="449.40" x2="472.92" y2="451.40" stroke="#555" stroke-width="0.8"/>
<line x1="474.81" y1="449.40" x2="474.81" y2="452.90" stroke="#444" stroke-width="0.9"/>
<text transform="translate(472.31,459.60) scale(0.72,1)" font-size="5.0" fill="#444" text-anchor="end">10</text>
<text transform="translate(477.31,456.60) scale(0.8,1)" font-size="4.2" fill="#555" text-anchor="start">3</text>
<line x1="487.29" y1="449.40" x2="487.29" y2="451.40" stroke="#555" stroke-width="0.8"/>
<line x1="494.58" y1="449.40" x2="494.58" y2="451.40" stroke="#555" stroke-width="0.8"/>
<line x1="499.76" y1="449.40" x2="499.76" y2="451.40" stroke="#555" stroke-width="0.8"/>
<line x1="503.78" y1="449.40" x2="503.78" y2="451.40" stroke="#555" stroke-width="0.8"/>
<line x1="507.06" y1="449.40" x2="507.06" y2="451.40" stroke="#555" stroke-width="0.8"/>
<line x1="509.83" y1="449.40" x2="509.83" y2="451.40" stroke="#555" stroke-width="0.8"/>
<line x1="512.23" y1="449.40" x2="512.23" y2="451.40" stroke="#555" stroke-width="0.8"/>
<line x1="514.35" y1="449.40" x2="514.35" y2="451.40" stroke="#555" stroke-width="0.8"/>
<line x1="516.25" y1="449.40" x2="516.25" y2="452.90" stroke="#444" stroke-width="0.9"/>
<text transform="translate(513.75,459.60) scale(0.72,1)" font-size="5.0" fill="#444" text-anchor="end">10</text>
<text transform="translate(518.75,456.60) scale(0.8,1)" font-size="4.2" fill="#555" text-anchor="start">4</text>
<line x1="350.50" y1="345.75" x2="350.50" y2="449.90" stroke="#333" stroke-width="1.2"/>
<line x1="350.00" y1="449.40" x2="516.25" y2="449.40" stroke="#333" stroke-width="1.2"/>
<polyline points="53.10,113.00 53.10,98.75 53.80,109.40 61.25,109.50 67.50,106.25 73.75,101.25 78.75,92.50 81.25,80.00 82.50,81.25 85.00,72.50 87.50,57.50 90.00,47.50 93.75,32.50 97.50,20.00 100.00,16.25 102.50,17.00 103.75,10.00 105.50,20.00 108.75,37.50 110.80,55.00 112.50,67.50 114.40,80.00 115.60,83.75 116.25,92.50 117.50,98.75 120.00,103.75 123.75,107.50 127.50,111.25 131.25,112.75 278.00,112.90" fill="none" stroke="#000" stroke-width="2.0" stroke-linejoin="round" stroke-linecap="round" opacity="1.0"/>
<polyline points="51.00,113.00 110.00,112.50 116.70,110.70 124.30,109.10 128.75,105.00 132.50,101.25 135.60,95.00 138.10,86.25 140.60,73.75 142.50,62.50 143.75,57.50 145.60,43.75 147.50,31.25 149.40,22.50 151.25,17.50 153.10,14.40 155.00,11.90 157.50,11.00 160.00,11.90 161.25,12.50 163.75,15.60 166.25,21.25 168.75,28.75 171.25,36.25 173.75,45.00 175.50,53.00 176.50,60.90 178.30,62.80 179.50,70.60 181.40,82.30 184.30,93.90 187.20,103.70 191.10,109.50 196.00,111.40 200.90,111.80 278.00,112.50" fill="none" stroke="#ee1c24" stroke-width="2.0" stroke-linejoin="round" stroke-linecap="round" opacity="1.0"/>
<polyline points="51.00,112.80 100.00,112.60 112.00,110.80 117.00,108.00 120.60,103.50 122.50,101.50 124.30,99.70 127.50,92.50 130.00,83.75 132.50,73.75 135.00,62.50 136.90,55.00 138.50,40.00 140.50,26.00 142.50,16.00 144.50,11.50 146.25,10.50 148.00,12.00 149.50,18.00 151.25,27.50 153.00,36.00 155.00,43.00 157.50,53.00 160.00,62.50 161.90,68.60 164.90,76.40 168.75,86.10 172.60,93.90 176.50,101.70 181.40,107.50 186.30,110.50 195.00,112.50 278.00,112.80" fill="none" stroke="#1e1c8c" stroke-width="2.0" stroke-linejoin="round" stroke-linecap="round" opacity="1.0"/>
<polyline points="51.00,112.80 90.00,112.50 110.00,110.00 115.00,106.25 120.00,102.50 125.00,93.75 128.75,83.75 131.25,68.75 132.50,65.00 135.00,60.00 136.90,41.25 139.40,27.50 141.25,18.75 143.10,13.10 145.60,10.60 146.90,10.25 148.75,13.75 150.00,21.25 151.90,31.25 153.75,38.75 156.25,45.00 158.75,52.50 161.25,61.25 165.00,70.00 168.75,80.00 172.50,87.00 174.60,95.90 179.50,103.70 184.30,108.50 189.20,111.00 200.00,112.50 278.00,112.80" fill="none" stroke="#1e9a3e" stroke-width="2.0" stroke-linejoin="round" stroke-linecap="round" opacity="1.0"/>
<polyline points="51.00,112.90 90.00,112.60 98.00,111.30 108.00,110.90 112.00,110.40 118.70,107.30 122.50,104.40 126.40,99.70 127.50,97.50 131.25,87.50 134.40,72.50 136.25,63.75 137.50,56.00 140.00,41.25 143.10,25.00 145.00,16.25 146.90,10.60 148.10,11.90 151.25,18.75 153.10,27.50 156.25,36.25 158.75,43.75 161.25,53.00 162.90,57.00 165.20,59.90 166.80,66.70 169.70,74.50 171.70,76.40 174.60,85.00 177.50,95.90 181.40,103.70 185.30,108.50 190.20,111.00 196.00,112.00 205.00,111.60 232.00,111.40 234.00,112.30 278.00,112.50" fill="none" stroke="#f7901e" stroke-width="2.0" stroke-linejoin="round" stroke-linecap="round" opacity="1.0"/>
<polyline points="52.00,273.00 52.00,211.50 52.40,262.00 53.10,263.75 55.00,262.50 57.50,260.00 60.00,256.25 62.50,252.50 65.00,247.50 67.50,243.75 69.40,237.50 70.60,232.50 71.90,227.50 73.75,220.00 75.00,212.50 76.00,213.75 77.25,206.25 78.10,200.00 79.00,203.00 80.00,195.00 81.00,190.00 82.50,189.40 84.40,187.50 86.25,188.10 87.50,178.75 88.75,185.00 90.60,193.75 92.50,202.50 94.40,211.25 95.60,218.75 97.50,223.50 100.00,231.00 101.90,237.50 103.00,238.50 105.00,248.75 106.90,256.25 110.00,262.50 113.75,267.50 117.50,271.25 121.25,272.50 216.00,272.80" fill="none" stroke="#222" stroke-width="1.3" stroke-linejoin="round" stroke-linecap="round" opacity="1.0"/>
<polyline points="51.00,273.00 70.00,272.50 76.25,271.90 82.50,270.60 87.50,267.50 91.25,266.25 95.00,262.50 98.75,257.50 101.25,252.50 103.10,243.75 105.00,237.50 106.90,230.00 108.10,225.00 109.40,220.00 110.60,215.00 112.50,203.75 114.40,188.75 115.60,182.50 116.25,177.50 117.50,186.25 118.10,190.00 119.40,182.00 120.60,182.00 121.90,195.00 123.10,200.00 124.40,207.50 125.60,217.50 127.50,225.00 128.75,237.50 131.25,247.50 133.75,256.25 136.90,265.00 140.00,268.75 144.40,271.00 151.25,271.90 160.00,272.50 164.00,271.70 168.00,270.60 172.50,270.20 177.00,270.50 182.00,271.20 186.00,272.20 189.00,272.70 216.00,272.80" fill="none" stroke="#1e1c8c" stroke-width="1.7" stroke-linejoin="round" stroke-linecap="round" opacity="1.0"/>
<polyline points="51.00,273.00 70.00,272.50 80.00,271.00 87.50,268.75 93.75,266.25 98.75,262.50 101.90,257.50 103.75,251.25 106.25,243.75 108.10,235.00 109.40,227.50 110.60,218.00 112.50,205.00 114.40,190.00 115.60,184.00 117.00,183.00 118.00,186.00 119.40,180.00 120.60,181.25 121.90,195.00 123.10,200.00 124.40,207.50 125.60,217.50 127.50,225.00 128.75,237.50 131.25,247.50 133.75,256.25 136.90,265.00 140.00,268.75 144.40,271.00 151.25,271.90 216.00,272.50" fill="none" stroke="#ee1c24" stroke-width="1.7" stroke-linejoin="round" stroke-linecap="round" opacity="1.0"/>
<polyline points="348.50,276.90 348.70,256.20 351.00,254.60 354.30,248.20 357.50,237.00 359.10,232.00 361.50,229.00 362.50,220.50 364.40,213.00 366.25,206.75 367.50,204.25 368.75,196.75 369.40,193.00 370.60,195.00 372.50,189.25 373.75,183.00 375.00,185.00 376.25,194.25 377.50,181.75 378.75,180.50 380.00,186.75 380.60,196.75 381.90,180.50 382.50,180.00 383.75,195.00 385.00,205.00 386.25,214.00 388.75,220.50 390.00,225.00 392.50,237.50 395.00,246.25 396.90,255.00 398.10,260.00 400.00,263.75 402.50,268.75 405.00,272.50 408.10,275.60 420.00,276.20 515.00,276.50" fill="none" stroke="#222" stroke-width="1.3" stroke-linejoin="round" stroke-linecap="round" opacity="1.0"/>
<polyline points="348.75,275.60 352.50,276.25 356.25,274.40 361.25,273.10 365.00,271.25 367.50,268.10 370.00,266.25 371.90,262.50 373.75,259.40 375.60,256.25 377.50,251.25 378.75,243.75 380.00,237.50 381.90,231.25 383.10,225.00 383.75,216.00 385.60,200.50 387.50,189.25 389.40,183.00 391.25,180.50 393.10,180.00 394.40,183.00 396.25,184.25 398.10,193.00 400.00,199.25 401.90,205.50 403.10,211.75 404.40,220.50 406.25,226.75 407.50,235.00 408.75,243.75 411.25,252.50 413.75,261.25 415.60,266.25 418.75,268.00 420.00,270.00 423.75,272.50 428.75,274.00 435.00,275.00 445.00,275.60 515.00,276.00" fill="none" stroke="#1e1c8c" stroke-width="1.7" stroke-linejoin="round" stroke-linecap="round" opacity="1.0"/>
<polyline points="350.00,276.25 356.25,275.00 362.50,274.40 366.90,272.50 370.00,270.00 372.50,266.90 375.60,262.50 378.10,256.25 380.00,248.75 381.90,238.75 383.75,230.00 385.60,215.50 387.50,203.00 389.40,189.25 391.25,183.00 393.75,186.00 395.00,180.50 396.25,180.50 398.10,189.25 400.00,198.00 401.90,205.50 403.75,214.25 405.00,220.50 406.25,225.00 407.50,232.50 408.75,240.00 411.25,247.50 413.10,255.00 415.00,261.25 416.90,265.00 418.75,266.25 420.00,270.00 423.75,272.50 428.75,274.00 435.00,275.00 445.00,275.60 515.00,276.00" fill="none" stroke="#ee1c24" stroke-width="1.7" stroke-linejoin="round" stroke-linecap="round" opacity="1.0"/>
<polyline points="52.50,447.50 55.00,442.50 57.50,438.75 60.00,432.50 61.90,423.75 63.75,413.75 65.60,405.00 66.90,393.00 68.10,381.25 69.40,367.50 70.00,360.00 71.25,362.50 71.90,356.25 73.00,358.00 74.00,352.50 75.00,349.40 75.60,352.50 76.90,357.50 78.10,368.75 79.40,381.25 80.30,395.00 81.25,407.50 83.10,420.00 84.40,432.50 86.25,441.25 88.75,445.00 92.50,448.10 216.00,448.80" fill="none" stroke="#3a3a3a" stroke-width="2.3" stroke-linejoin="round" stroke-linecap="round" opacity="1.0"/>
<polyline points="52.50,449.00 63.75,448.75 67.50,446.90 71.25,442.50 75.00,435.00 77.50,427.50 80.00,421.25 81.90,415.00 83.75,407.50 85.00,400.00 86.90,387.50 88.75,380.00 90.60,372.50 92.50,367.50 94.40,361.25 96.25,354.00 97.50,352.00 98.75,354.00 100.00,361.25 101.90,365.00 103.75,368.75 104.50,378.00 105.60,382.50 106.90,387.50 108.10,392.00 108.75,400.00 111.25,407.50 113.10,416.25 115.00,423.75 116.90,430.00 119.40,436.25 122.50,441.25 126.25,445.00 130.00,447.50 140.00,448.30 145.00,447.60 149.00,446.40 153.00,446.30 157.00,447.60 160.00,448.40 172.00,448.30 175.00,447.70 190.00,447.70 193.00,448.40 216.00,448.60" fill="none" stroke="#ee1c24" stroke-width="2.3" stroke-linejoin="round" stroke-linecap="round" opacity="1.0"/>
<polyline points="52.50,449.00 53.75,448.10 57.50,446.25 61.25,443.75 65.00,441.25 67.50,436.25 70.00,428.75 71.90,422.50 73.75,416.25 75.60,408.75 77.50,401.25 79.40,395.00 81.00,385.00 83.00,372.00 85.00,362.00 87.50,352.50 89.00,354.00 91.25,360.00 94.40,368.75 96.25,377.50 97.50,387.50 98.30,395.00 99.50,404.00 101.00,410.00 102.50,417.50 105.00,426.25 107.50,432.50 111.25,438.75 115.00,444.40 120.00,446.90 123.75,448.10 216.00,448.50" fill="none" stroke="#1e1c8c" stroke-width="2.3" stroke-linejoin="round" stroke-linecap="round" opacity="1.0"/>
<polyline points="53.00,395.00 53.75,405.00 55.00,411.25 56.90,416.25 58.75,422.50 60.60,427.50 62.50,431.25 64.40,432.50 66.25,428.75 68.10,426.25 70.00,420.00 71.90,413.75 73.75,407.50 76.25,400.00 78.10,395.00 79.40,386.25 81.25,375.00 82.50,365.00 83.75,355.00 84.40,346.50 85.50,352.00 86.90,358.75 88.10,366.25 89.40,362.50 91.25,368.75 93.10,377.50 95.00,385.00 96.90,393.75 98.10,402.00 100.00,407.50 102.50,417.50 105.00,426.25 107.50,432.50 111.25,438.75 115.00,444.40 120.00,446.90 140.00,448.40 216.00,448.60" fill="none" stroke="#7c1a8c" stroke-width="2.3" stroke-linejoin="round" stroke-linecap="round" opacity="1.0"/>
<polyline points="52.50,449.00 52.50,347.50 53.00,427.50 55.00,428.75 57.50,430.00 60.00,431.25 62.50,430.00 64.40,425.00 66.25,422.50 68.10,417.50 70.00,412.50 71.90,407.50 73.75,400.00 75.00,392.50 77.50,383.75 80.00,375.00 82.50,365.00 85.00,356.25 86.90,352.50 88.10,351.90 90.00,356.25 91.90,365.00 93.75,375.00 95.00,384.00 96.25,401.00 98.75,412.00 101.90,422.50 105.00,428.75 108.75,435.00 113.75,441.25 118.75,445.00 123.75,447.50 128.75,448.10 216.00,448.50" fill="none" stroke="#3db6da" stroke-width="2.5" stroke-linejoin="round" stroke-linecap="round" opacity="1.0"/>
<polyline points="351.50,449.00 351.90,442.50 352.50,447.50 357.50,445.00 362.50,443.10 367.50,441.25 370.00,437.50 371.90,432.50 373.75,426.25 376.25,420.00 378.10,413.75 379.40,407.50 381.25,401.25 382.50,394.00 383.10,392.50 384.40,381.25 385.60,368.75 386.90,362.50 387.50,355.00 388.75,353.10 389.40,361.25 390.60,356.25 391.90,351.90 393.10,352.50 394.40,361.25 396.25,368.75 397.50,375.00 398.75,386.25 400.00,393.75 401.90,402.50 404.40,410.00 406.90,417.50 409.40,423.75 411.90,430.00 414.40,436.25 416.90,443.75 418.75,447.50 421.25,448.75 516.00,448.80" fill="none" stroke="#3a3a3a" stroke-width="2.3" stroke-linejoin="round" stroke-linecap="round" opacity="1.0"/>
<polyline points="351.90,447.50 360.00,446.25 366.25,441.90 371.25,440.00 373.75,436.25 376.25,432.50 378.75,430.00 381.25,426.25 382.50,420.00 383.75,415.00 385.00,410.00 386.25,402.00 388.10,390.00 390.00,386.25 391.25,380.00 393.10,372.50 394.40,365.00 396.25,362.50 397.50,366.25 398.75,362.50 400.60,356.25 401.90,351.90 403.10,352.50 404.40,363.75 406.25,357.50 407.50,358.75 408.75,361.25 410.00,365.00 411.90,371.25 413.75,376.25 415.60,382.50 417.50,386.25 419.40,390.00 420.60,395.00 421.90,402.00 423.10,407.50 425.00,415.00 427.50,422.50 430.00,428.75 432.50,435.00 436.25,440.00 440.00,443.10 445.00,446.25 450.00,448.10 516.00,448.50" fill="none" stroke="#ee1c24" stroke-width="2.3" stroke-linejoin="round" stroke-linecap="round" opacity="1.0"/>
<polyline points="351.90,447.50 363.75,445.00 370.00,443.75 375.00,442.50 378.75,440.00 381.25,436.25 383.75,432.50 386.25,427.50 388.10,422.50 390.00,417.50 391.90,411.25 393.75,406.25 395.00,405.00 396.25,402.50 397.50,401.25 398.75,400.00 402.50,393.75 405.00,390.00 407.50,386.25 408.75,377.50 410.60,371.25 412.50,362.50 414.40,351.25 415.60,357.50 417.00,356.00 418.75,347.50 420.00,353.00 421.25,348.75 422.50,358.75 424.40,368.75 426.25,377.50 428.10,386.25 430.00,396.25 432.00,404.00 435.00,411.00 438.75,426.25 442.50,435.00 446.25,442.50 450.60,447.50 455.00,448.50 516.00,448.80" fill="none" stroke="#7c1a8c" stroke-width="2.3" stroke-linejoin="round" stroke-linecap="round" opacity="1.0"/>
<polyline points="351.90,447.50 357.50,446.25 365.00,443.10 372.50,443.10 378.75,442.50 382.50,441.25 386.25,436.25 388.75,432.50 391.25,427.50 393.10,422.50 395.00,417.50 396.90,411.25 398.75,405.00 400.60,400.00 402.50,394.00 403.75,392.50 405.00,382.50 406.25,382.50 407.50,377.50 408.75,375.00 410.00,372.50 412.50,368.75 415.00,365.00 416.90,357.50 418.75,352.50 420.00,355.00 421.90,357.50 423.10,363.75 425.00,372.50 426.90,380.00 428.75,388.75 430.00,395.00 431.25,402.00 432.50,407.50 435.00,413.75 437.50,420.00 440.00,426.25 442.50,432.50 445.00,438.75 447.50,443.75 450.60,447.50 453.75,448.75 516.00,448.75" fill="none" stroke="#3db6da" stroke-width="2.7" stroke-linejoin="round" stroke-linecap="round" opacity="1.0"/>
<rect x="286.80" y="23.50" width="11.20" height="10.50" fill="#f7901e" stroke="#222" stroke-width="1"/>
<rect x="300.85" y="23.65" width="11.30" height="10.20" fill="#fff" stroke="#111" stroke-width="1.3"/>
<line x1="300.80" y1="28.55" x2="312.20" y2="28.55" stroke="#111" stroke-width="1.4"/>
<text x="325.00" y="33.30" font-size="11.2" fill="#000" font-weight="normal" text-anchor="start" >Daf-/-/C5aR-/-</text>
<rect x="286.80" y="39.50" width="11.20" height="10.50" fill="#1e9a3e" stroke="#222" stroke-width="1"/>
<rect x="300.85" y="39.65" width="11.30" height="10.20" fill="#fff" stroke="#111" stroke-width="1.3"/>
<line x1="300.80" y1="44.55" x2="312.20" y2="44.55" stroke="#111" stroke-width="1.4"/>
<text x="325.00" y="49.60" font-size="11.2" fill="#000" font-weight="normal" text-anchor="start" >Daf-/-/C3-/-</text>
<rect x="286.80" y="55.50" width="11.20" height="10.50" fill="#ee1c24" stroke="#222" stroke-width="1"/>
<rect x="300.85" y="55.65" width="11.30" height="10.20" fill="#fff" stroke="#111" stroke-width="1.3"/>
<line x1="300.80" y1="60.55" x2="312.20" y2="60.55" stroke="#111" stroke-width="1.4"/>
<text x="325.00" y="65.90" font-size="11.2" fill="#000" font-weight="normal" text-anchor="start" >Daf-/-</text>
<rect x="286.80" y="71.50" width="11.20" height="10.50" fill="#1e1c8c" stroke="#222" stroke-width="1"/>
<rect x="300.85" y="71.65" width="11.30" height="10.20" fill="#fff" stroke="#111" stroke-width="1.3"/>
<line x1="300.80" y1="76.55" x2="312.20" y2="76.55" stroke="#111" stroke-width="1.4"/>
<text x="325.00" y="82.20" font-size="11.2" fill="#000" font-weight="normal" text-anchor="start" >WT</text>
<rect x="286.80" y="87.50" width="11.20" height="10.50" fill="#000" stroke="#222" stroke-width="1"/>
<rect x="300.85" y="87.65" width="11.30" height="10.20" fill="#fff" stroke="#111" stroke-width="1.3"/>
<line x1="300.80" y1="92.55" x2="312.20" y2="92.55" stroke="#111" stroke-width="1.4"/>
<text x="325.00" y="98.50" font-size="11.2" fill="#000" font-weight="normal" text-anchor="start" >Isotype</text>
<rect x="238.30" y="209.35" width="9.80" height="9.75" fill="#ee1c24" stroke="#222" stroke-width="1"/>
<rect x="251.15" y="209.50" width="9.50" height="9.45" fill="#fff" stroke="#111" stroke-width="1.3"/>
<line x1="251.10" y1="214.03" x2="260.70" y2="214.03" stroke="#111" stroke-width="1.4"/>
<text x="269.30" y="217.15" font-size="11.0" fill="#000" font-weight="normal" text-anchor="start" >Daf-/-</text>
<rect x="238.30" y="224.10" width="9.80" height="9.75" fill="#1e1c8c" stroke="#222" stroke-width="1"/>
<rect x="251.15" y="224.25" width="9.50" height="9.45" fill="#fff" stroke="#111" stroke-width="1.3"/>
<line x1="251.10" y1="228.78" x2="260.70" y2="228.78" stroke="#111" stroke-width="1.4"/>
<text x="269.30" y="232.35" font-size="11.0" fill="#000" font-weight="normal" text-anchor="start" >WT</text>
<rect x="238.30" y="238.85" width="9.80" height="9.75" fill="#3a3a3a" stroke="#222" stroke-width="1"/>
<rect x="251.15" y="239.00" width="9.50" height="9.45" fill="#fff" stroke="#111" stroke-width="1.3"/>
<line x1="251.10" y1="243.53" x2="260.70" y2="243.53" stroke="#111" stroke-width="1.4"/>
<text x="269.30" y="247.55" font-size="11.0" fill="#000" font-weight="normal" text-anchor="start" >Isotype</text>
<rect x="223.90" y="366.30" width="9.60" height="9.00" fill="#3db6da" stroke="#222" stroke-width="1"/>
<rect x="234.45" y="366.45" width="9.30" height="8.70" fill="#fff" stroke="#111" stroke-width="1.3"/>
<line x1="234.40" y1="370.60" x2="243.80" y2="370.60" stroke="#111" stroke-width="1.4"/>
<text x="252.40" y="375.10" font-size="10.0" fill="#000" font-weight="normal" text-anchor="start" >Daf-/-/C5aR-/-</text>
<rect x="223.90" y="380.72" width="9.60" height="9.00" fill="#7c1a8c" stroke="#222" stroke-width="1"/>
<rect x="234.45" y="380.87" width="9.30" height="8.70" fill="#fff" stroke="#111" stroke-width="1.3"/>
<line x1="234.40" y1="385.02" x2="243.80" y2="385.02" stroke="#111" stroke-width="1.4"/>
<text x="252.40" y="389.52" font-size="10.0" fill="#000" font-weight="normal" text-anchor="start" >Daf-/-/C3-/-</text>
<rect x="223.90" y="395.14" width="9.60" height="9.00" fill="#ee1c24" stroke="#222" stroke-width="1"/>
<rect x="234.45" y="395.29" width="9.30" height="8.70" fill="#fff" stroke="#111" stroke-width="1.3"/>
<line x1="234.40" y1="399.44" x2="243.80" y2="399.44" stroke="#111" stroke-width="1.4"/>
<text x="252.40" y="403.94" font-size="10.0" fill="#000" font-weight="normal" text-anchor="start" >Daf-/-</text>
<rect x="223.90" y="409.56" width="9.60" height="9.00" fill="#1e1c8c" stroke="#222" stroke-width="1"/>
<rect x="234.45" y="409.71" width="9.30" height="8.70" fill="#fff" stroke="#111" stroke-width="1.3"/>
<line x1="234.40" y1="413.86" x2="243.80" y2="413.86" stroke="#111" stroke-width="1.4"/>
<text x="252.40" y="418.36" font-size="10.0" fill="#000" font-weight="normal" text-anchor="start" >WT</text>
<rect x="223.90" y="423.98" width="9.60" height="9.00" fill="#3a3a3a" stroke="#222" stroke-width="1"/>
<rect x="234.45" y="424.13" width="9.30" height="8.70" fill="#fff" stroke="#111" stroke-width="1.3"/>
<line x1="234.40" y1="428.28" x2="243.80" y2="428.28" stroke="#111" stroke-width="1.4"/>
<text x="252.40" y="432.78" font-size="10.0" fill="#000" font-weight="normal" text-anchor="start" >Isotype</text>
</svg>
</body></html>
